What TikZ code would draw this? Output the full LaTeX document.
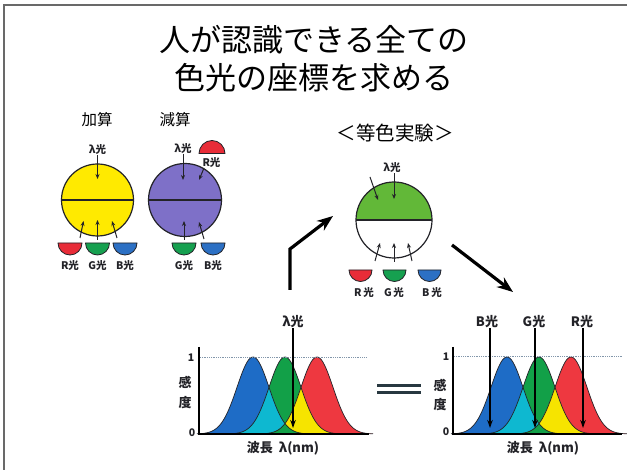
\documentclass[tikz,border=0pt]{standalone}
\usepackage{fontspec}
\setmainfont{Noto Sans CJK JP}
\usetikzlibrary{arrows.meta}

\definecolor{framegray}{RGB}{105,105,105}
\definecolor{ink}{RGB}{35,35,40}
\definecolor{discred}{RGB}{232,44,56}
\definecolor{discgreen}{RGB}{22,160,80}
\definecolor{discblue}{RGB}{44,112,196}
\definecolor{addyellow}{RGB}{255,234,0}
\definecolor{subpurple}{RGB}{126,112,200}
\definecolor{matchgreen}{RGB}{98,184,56}
\definecolor{sblue}{RGB}{30,108,198}
\definecolor{sgreen}{RGB}{18,160,72}
\definecolor{sred}{RGB}{238,56,64}
\definecolor{scyan}{RGB}{14,184,208}
\definecolor{syellow}{RGB}{246,228,0}
\definecolor{dotline}{RGB}{130,150,170}
\definecolor{eqcolor}{RGB}{40,56,64}

% one sensitivity curve, centred on x = 0, baseline at y = 434
\newcommand\bellcurve{plot[domain=-56:56,samples=75,smooth] (\x,{434-77*exp(-0.5*(\x/16)^2)})}

% three overlapping cone-sensitivity curves, shifted by #1
\newcommand\conecurves[1]{%
  \begin{scope}[shift={(#1,0)}]
    \fill[sblue,shift={(253,0)}] \bellcurve -- cycle;
    \fill[sgreen,shift={(285,0)}] \bellcurve -- cycle;
    \fill[sred,shift={(317,0)}] \bellcurve -- cycle;
    \begin{scope}
      \clip[shift={(253,0)}] \bellcurve -- cycle;
      \fill[scyan,shift={(285,0)}] \bellcurve -- cycle;
    \end{scope}
    \begin{scope}
      \clip[shift={(285,0)}] \bellcurve -- cycle;
      \fill[syellow,shift={(317,0)}] \bellcurve -- cycle;
    \end{scope}
    \begin{scope}
      \clip[shift={(253,0)}] \bellcurve -- cycle;
      \fill[sgreen,shift={(317,0)}] \bellcurve -- cycle;
    \end{scope}
    \draw[curveline,shift={(253,0)}] \bellcurve;
    \draw[curveline,shift={(285,0)}] \bellcurve;
    \draw[curveline,shift={(317,0)}] \bellcurve;
  \end{scope}}

\tikzset{
  title/.style={font=\fontsize{31}{36}\selectfont, inner sep=0pt},
  heading/.style={font=\fontsize{15.5}{18}\selectfont, inner sep=0pt},
  small/.style={font=\fontsize{10.5}{12}\selectfont\bfseries, text=ink, inner sep=0pt},
  glabel/.style={font=\fontsize{13}{15}\selectfont\bfseries, text=ink, inner sep=0pt},
  thin arrow/.style={draw=ink, line width=1pt, -{Stealth[length=5pt,width=4pt]}},
  graph arrow/.style={draw=black, line width=1.6pt, -{Stealth[length=8pt,width=5.5pt]}},
  big arrow/.style={draw=black, line width=3.2pt, -{Stealth[length=16pt,width=12pt]}},
  ring/.style={draw=ink, line width=1.2pt},
  disc/.style={draw=ink, line width=0.8pt},
  axis/.style={draw=black, line width=2.4pt},
  curveline/.style={draw=ink, line width=0.7pt},
  frameline/.style={draw=framegray, line width=2pt},
}

\begin{document}
\begin{tikzpicture}[x=1pt,y=-1pt]
\useasboundingbox (0,0) rectangle (627,470);
\fill[white] (0,0) rectangle (627,470);
\draw[frameline] (3.5,475) -- (3.5,5.5) -- (632,5.5);

% title
\node[title] (t1) at (314,40) {人が認識できる全ての};
\node[title] (t2) at (314,78) {色光の座標を求める};

% ---------- additive mixing ----------
\node[heading] (add) at (97,120) {加算};
\fill[addyellow] (97.5,200) circle[radius=36];
\draw[ring] (97.5,200) circle[radius=36];
\draw[ring] (61.5,200) -- (133.5,200);
\node[small] (aL) at (97.5,150) {λ光};
\coordinate (aLin) at (97.5,179);
\draw[thin arrow] (aL.south) -- (aLin);
\filldraw[disc,fill=discred] (58,243) -- (82,243) arc[start angle=0,end angle=180,radius=12] -- cycle;
\filldraw[disc,fill=discgreen] (85.5,243) -- (109.5,243) arc[start angle=0,end angle=180,radius=12] -- cycle;
\filldraw[disc,fill=discblue] (113,243) -- (137,243) arc[start angle=0,end angle=180,radius=12] -- cycle;
\coordinate (aR0) at (80,238); \coordinate (aR1) at (83.5,221);
\coordinate (aG0) at (97.5,240); \coordinate (aG1) at (97.5,220);
\coordinate (aB0) at (117,238); \coordinate (aB1) at (112,221);
\draw[thin arrow] (aR0) -- (aR1);
\draw[thin arrow] (aG0) -- (aG1);
\draw[thin arrow] (aB0) -- (aB1);
\node[small] (aRt) at (70,266) {R光};
\node[small] (aGt) at (97.5,266) {G光};
\node[small] (aBt) at (125,266) {B光};

% ---------- subtractive mixing ----------
\node[heading] (sub) at (175,120) {減算};
\fill[subpurple] (185,200) circle[radius=36.5];
\draw[ring] (185,200) circle[radius=36.5];
\draw[ring] (148.5,200) -- (221.5,200);
\node[small] (sL) at (183,149) {λ光};
\coordinate (sLin) at (183,180);
\draw[thin arrow] (sL.south) -- (sLin);
\filldraw[disc,fill=discred] (199,153.5) -- (225,153.5) arc[start angle=0,end angle=-180,radius=13] -- cycle;
\node[small] (sRt) at (211.5,162.5) {R光};
\coordinate (sR0) at (204,168); \coordinate (sR1) at (199,180);
\draw[thin arrow] (sR0) -- (sR1);
\filldraw[disc,fill=discgreen] (172,243) -- (196,243) arc[start angle=0,end angle=180,radius=12] -- cycle;
\filldraw[disc,fill=discblue] (201,243) -- (225,243) arc[start angle=0,end angle=180,radius=12] -- cycle;
\coordinate (sG0) at (184,240); \coordinate (sG1) at (184,221);
\coordinate (sB0) at (204,239); \coordinate (sB1) at (199,222);
\draw[thin arrow] (sG0) -- (sG1);
\draw[thin arrow] (sB0) -- (sB1);
\node[small] (sGt) at (184,266) {G光};
\node[small] (sBt) at (213,266) {B光};

% ---------- colour matching ----------
\node[heading,font=\fontsize{19.5}{22}\selectfont] (cm) at (395,133) {＜等色実験＞};
\begin{scope}
  \clip (354,180) rectangle (434,220);
  \fill[matchgreen] (394,220) circle[radius=38];
\end{scope}
\draw[ring] (394,220) circle[radius=38];
\draw[ring] (356,220) -- (432,220);
\node[small] (mL) at (392,168) {λ光};
\coordinate (mL0) at (370,177); \coordinate (mL1) at (378,200);
\coordinate (mLin) at (394,199);
\draw[thin arrow] (mL.south -| mLin) -- (mLin);
\draw[thin arrow] (mL0) -- (mL1);
\filldraw[disc,fill=discred] (349,270) -- (372,270) arc[start angle=0,end angle=180,radius=11.5] -- cycle;
\filldraw[disc,fill=discgreen] (383,270) -- (406,270) arc[start angle=0,end angle=180,radius=11.5] -- cycle;
\filldraw[disc,fill=discblue] (418,270) -- (441,270) arc[start angle=0,end angle=180,radius=11.5] -- cycle;
\coordinate (mR0) at (375,261); \coordinate (mR1) at (380,243);
\coordinate (mG0) at (394,262); \coordinate (mG1) at (394,243);
\coordinate (mB0) at (412,261); \coordinate (mB1) at (408,243);
\draw[thin arrow] (mR0) -- (mR1);
\draw[thin arrow] (mG0) -- (mG1);
\draw[thin arrow] (mB0) -- (mB1);
\node[small] (mRt) at (364,293) {R\,光};
\node[small] (mGt) at (394,293) {G\,光};
\node[small] (mBt) at (432,293) {B\,光};

% flow arrows
\coordinate (up0) at (290,290);
\coordinate (up1) at (290,249);
\coordinate (up2) at (333,216);
\draw[big arrow] (up0) -- (up1) -- (up2);
\coordinate (dn0) at (452,245);
\coordinate (dn1) at (513,292);
\draw[big arrow] (dn0) -- (dn1);

% ---------- left graph: test light ----------
\conecurves{0}
\draw[dotline,densely dotted,line width=0.8pt] (200,357) -- (367,357);
\draw[axis] (199,347) -- (199,434) -- (369,434);
\node[small] (l1) at (191,358) {1};
\node[small] (l0) at (192,433) {0};
\node[glabel] (lk1) at (185,382) {感};
\node[glabel] (lk2) at (185,403) {度};
\node[glabel] (lx) at (283,448) {波長\ \ λ(nm)};
\node[glabel] (lL) at (293,322) {λ光};
\coordinate (lLend) at (293,428);
\draw[graph arrow] (lL.south) -- (lLend);

% equals sign
\coordinate (eq1a) at (377,386); \coordinate (eq1b) at (421,386);
\coordinate (eq2a) at (377,393); \coordinate (eq2b) at (421,393);
\draw[eqcolor,line width=3pt] (eq1a) -- (eq1b);
\draw[eqcolor,line width=3pt] (eq2a) -- (eq2b);

% ---------- right graph: matching primaries ----------
\conecurves{254}
\draw[dotline,densely dotted,line width=0.8pt] (454,356) -- (622,356);
\draw[axis] (453,347) -- (453,434) -- (622,434);
\node[small] (r1) at (446,357) {1};
\node[small] (r0) at (446,432) {0};
\node[glabel] (rk1) at (440,385) {感};
\node[glabel] (rk2) at (440,405) {度};
\node[glabel] (rx) at (543,448) {波長\ \ λ(nm)};
\node[glabel] (rB) at (487,322) {B光};
\node[glabel] (rG) at (534,322) {G光};
\node[glabel] (rR) at (582,322) {R光};
\coordinate (rBend) at (490,428);
\coordinate (rGend) at (535,428);
\coordinate (rRend) at (583,428);
\draw[graph arrow] (rB.south -| rBend) -- (rBend);
\draw[graph arrow] (rG.south -| rGend) -- (rGend);
\draw[graph arrow] (rR.south -| rRend) -- (rRend);
\end{tikzpicture}
\end{document}
